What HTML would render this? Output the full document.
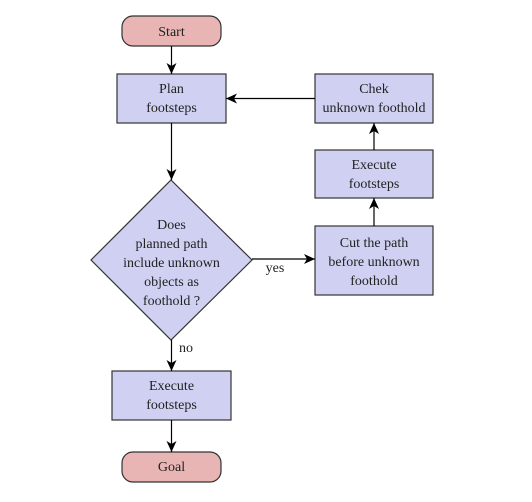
<!DOCTYPE html>
<html><head><meta charset="utf-8"><style>
html,body{margin:0;padding:0;background:#fff;}
</style></head><body>
<svg width="532" height="497" viewBox="0 0 532 497" xmlns="http://www.w3.org/2000/svg">
<defs>
<marker id="a" markerWidth="12" markerHeight="10" refX="11" refY="5" orient="auto" markerUnits="userSpaceOnUse">
<path d="M0,0 L11,5 L0,10 L3,5 Z" fill="#000"/>
</marker>
</defs>
<g stroke="#333" stroke-width="1.2">
<rect x="122" y="16" width="99" height="30" rx="11" fill="#e8b4b4"/>
<rect x="117" y="74" width="109" height="49" fill="#d0d1f2"/>
<rect x="315" y="74" width="118" height="49" fill="#d0d1f2"/>
<rect x="315" y="150" width="118" height="48" fill="#d0d1f2"/>
<rect x="315" y="226" width="118" height="69" fill="#d0d1f2"/>
<polygon points="171,180 252,260 171,340 91,260" fill="#d0d1f2"/>
<rect x="112" y="371" width="119" height="49" fill="#d0d1f2"/>
<rect x="122" y="452" width="99" height="30" rx="11" fill="#e8b4b4"/>
</g>
<g stroke="#000" stroke-width="1.2" fill="none">
<line x1="171.5" y1="46" x2="171.5" y2="74" marker-end="url(#a)"/>
<line x1="171.5" y1="123" x2="171.5" y2="180" marker-end="url(#a)"/>
<line x1="315" y1="98.5" x2="226" y2="98.5" marker-end="url(#a)"/>
<line x1="374" y1="150" x2="374" y2="123" marker-end="url(#a)"/>
<line x1="374" y1="226" x2="374" y2="198" marker-end="url(#a)"/>
<line x1="252" y1="259" x2="315" y2="259" marker-end="url(#a)"/>
<line x1="171.5" y1="340" x2="171.5" y2="371" marker-end="url(#a)"/>
<line x1="171.5" y1="420" x2="171.5" y2="452" marker-end="url(#a)"/>
</g>
<g font-family="'Liberation Serif', 'DejaVu Serif', serif" font-size="14" fill="#222" text-anchor="middle">
<text x="171.5" y="36">Start</text>
<text x="171.5" y="93">Plan</text>
<text x="171.5" y="112">footsteps</text>
<text x="374" y="93">Chek</text>
<text x="374" y="112">unknown foothold</text>
<text x="374" y="169">Execute</text>
<text x="374" y="188">footsteps</text>
<text x="374" y="247">Cut the path</text>
<text x="374" y="266">before unknown</text>
<text x="374" y="285">foothold</text>
<text x="171.5" y="229">Does</text>
<text x="171.5" y="248">planned path</text>
<text x="171.5" y="267">include unknown</text>
<text x="171.5" y="286">objects as</text>
<text x="171.5" y="305">foothold ?</text>
<text x="275" y="272">yes</text>
<text x="186" y="352">no</text>
<text x="171.5" y="390">Execute</text>
<text x="171.5" y="409">footsteps</text>
<text x="171.5" y="471">Goal</text>
</g>
</svg>
</body></html>
